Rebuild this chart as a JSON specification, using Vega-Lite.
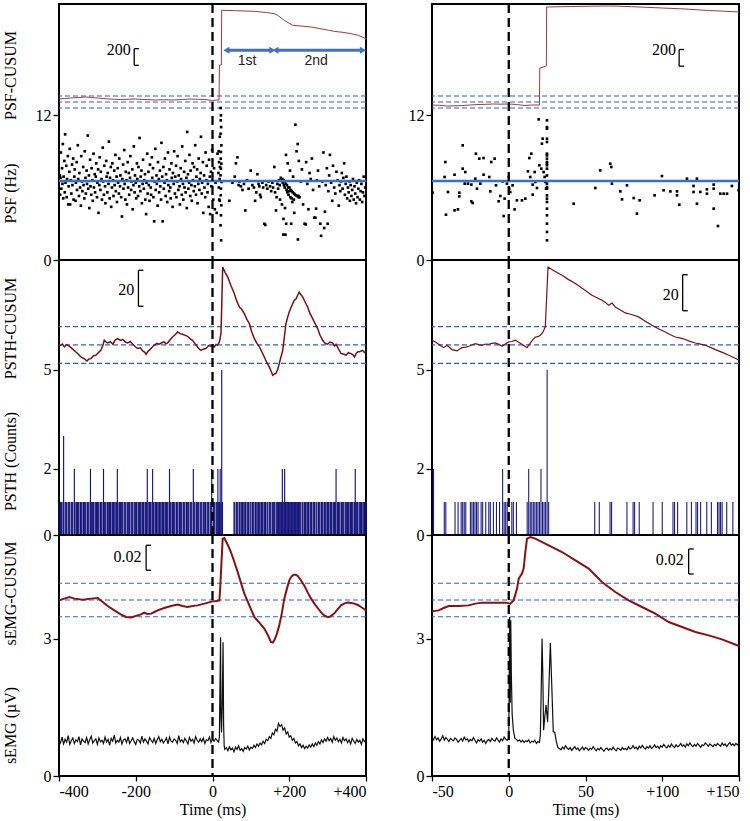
{
  "$schema": "https://vega.github.io/schema/vega-lite/v6.json",
  "background": "white",
  "padding": {"left": 1, "top": 1, "right": 2, "bottom": 2},
  "config": {
    "view": {"stroke": "black", "strokeWidth": 2},
    "axis": {
      "labelFont": "Liberation Serif", "labelFontSize": 16, "labelColor": "black",
      "titleFont": "Liberation Serif", "titleFontSize": 16, "titleFontWeight": "normal", "titleColor": "black",
      "tickColor": "black", "tickWidth": 1.3, "grid": false, "domain": false
    }
  },
  "datasets": {
    "psfL": [
      {"t":-398,"f":7.0},{"t":-397,"f":5.4},{"t":-396,"f":6.8},{"t":-395,"f":8.9},{"t":-394,"f":5.9},{"t":-392,"f":7.6},{"t":-391,"f":6.3},{"t":-390,"f":9.6},{"t":-389,"f":5.1},{"t":-388,"f":6.9},
      {"t":-386,"f":8.2},{"t":-385,"f":5.6},{"t":-384,"f":10.4},{"t":-383,"f":6.4},{"t":-381,"f":7.8},{"t":-380,"f":5.2},{"t":-379,"f":6.7},{"t":-377,"f":8.6},{"t":-376,"f":4.6},{"t":-375,"f":6.1},
      {"t":-373,"f":7.3},{"t":-372,"f":9.2},{"t":-371,"f":4.6},{"t":-369,"f":6.6},{"t":-368,"f":5.5},{"t":-366,"f":7.9},{"t":-365,"f":6.2},{"t":-363,"f":8.4},{"t":-362,"f":5.0},{"t":-360,"f":6.9},
      {"t":-359,"f":7.5},{"t":-357,"f":4.9},{"t":-356,"f":6.4},{"t":-354,"f":8.1},{"t":-353,"f":5.8},{"t":-351,"f":9.5},{"t":-350,"f":6.7},{"t":-348,"f":5.3},{"t":-347,"f":7.2},{"t":-345,"f":6.0},
      {"t":-343,"f":4.5},{"t":-342,"f":8.6},{"t":-340,"f":6.5},{"t":-339,"f":5.7},{"t":-337,"f":7.7},{"t":-336,"f":6.2},{"t":-334,"f":5.1},{"t":-333,"f":9.0},{"t":-331,"f":6.8},{"t":-330,"f":5.5},
      {"t":-328,"f":7.4},{"t":-327,"f":6.3},{"t":-325,"f":10.3},{"t":-324,"f":5.9},{"t":-322,"f":7.0},{"t":-321,"f":4.3},{"t":-319,"f":8.3},{"t":-318,"f":6.1},{"t":-316,"f":5.4},{"t":-315,"f":7.6},
      {"t":-313,"f":6.6},{"t":-312,"f":4.9},{"t":-310,"f":8.8},{"t":-309,"f":6.0},{"t":-307,"f":7.1},{"t":-306,"f":5.6},{"t":-304,"f":6.9},{"t":-303,"f":8.0},{"t":-301,"f":5.2},{"t":-300,"f":6.4},
      {"t":-298,"f":7.5},{"t":-297,"f":3.9},{"t":-295,"f":6.2},{"t":-294,"f":8.5},{"t":-292,"f":5.8},{"t":-291,"f":7.3},{"t":-289,"f":6.7},{"t":-288,"f":5.0},{"t":-286,"f":9.3},{"t":-285,"f":6.5},
      {"t":-283,"f":5.4},{"t":-282,"f":7.8},{"t":-280,"f":6.1},{"t":-279,"f":4.7},{"t":-277,"f":8.2},{"t":-276,"f":6.9},{"t":-274,"f":5.6},{"t":-273,"f":7.2},{"t":-271,"f":6.3},{"t":-270,"f":9.8},
      {"t":-268,"f":5.1},{"t":-267,"f":6.8},{"t":-265,"f":7.7},{"t":-264,"f":4.4},{"t":-262,"f":6.0},{"t":-261,"f":8.0},{"t":-259,"f":6.6},{"t":-258,"f":5.3},{"t":-256,"f":7.4},{"t":-255,"f":6.2},
      {"t":-253,"f":8.7},{"t":-252,"f":5.7},{"t":-250,"f":6.9},{"t":-249,"f":4.8},{"t":-247,"f":7.6},{"t":-246,"f":6.4},{"t":-244,"f":5.5},{"t":-243,"f":8.4},{"t":-241,"f":6.1},{"t":-240,"f":7.0},
      {"t":-238,"f":5.2},{"t":-236,"f":3.6},{"t":-235,"f":6.7},{"t":-233,"f":7.9},{"t":-232,"f":5.9},{"t":-230,"f":9.1},{"t":-229,"f":6.3},{"t":-227,"f":5.0},{"t":-226,"f":7.3},{"t":-224,"f":6.6},
      {"t":-223,"f":4.6},{"t":-221,"f":8.1},{"t":-220,"f":6.0},{"t":-218,"f":7.2},{"t":-217,"f":5.4},{"t":-215,"f":6.8},{"t":-214,"f":8.6},{"t":-212,"f":5.8},{"t":-211,"f":6.5},{"t":-209,"f":7.5},
      {"t":-208,"f":4.2},{"t":-206,"f":6.2},{"t":-205,"f":9.4},{"t":-203,"f":5.6},{"t":-202,"f":7.0},{"t":-200,"f":6.4},{"t":-199,"f":5.1},{"t":-197,"f":8.0},{"t":-196,"f":6.7},{"t":-194,"f":5.3},
      {"t":-193,"f":7.7},{"t":-191,"f":6.1},{"t":-190,"f":10.1},{"t":-188,"f":5.7},{"t":-187,"f":6.9},{"t":-185,"f":7.4},{"t":-184,"f":4.7},{"t":-182,"f":6.3},{"t":-181,"f":8.3},{"t":-179,"f":5.9},
      {"t":-178,"f":6.6},{"t":-176,"f":7.1},{"t":-175,"f":5.0},{"t":-173,"f":3.8},{"t":-172,"f":6.4},{"t":-170,"f":8.8},{"t":-169,"f":5.5},{"t":-167,"f":7.3},{"t":-166,"f":6.2},{"t":-164,"f":4.9},
      {"t":-163,"f":7.9},{"t":-161,"f":6.0},{"t":-160,"f":5.4},{"t":-158,"f":8.5},{"t":-157,"f":6.8},{"t":-155,"f":7.6},{"t":-154,"f":5.2},{"t":-152,"f":3.2},{"t":-151,"f":6.5},{"t":-149,"f":9.2},
      {"t":-148,"f":5.8},{"t":-146,"f":7.0},{"t":-145,"f":6.3},{"t":-143,"f":4.5},{"t":-142,"f":8.1},{"t":-140,"f":6.7},{"t":-139,"f":5.6},{"t":-137,"f":7.4},{"t":-136,"f":6.1},{"t":-134,"f":5.0},
      {"t":-133,"f":9.7},{"t":-131,"f":6.9},{"t":-130,"f":3.2},{"t":-128,"f":7.7},{"t":-127,"f":5.9},{"t":-125,"f":6.4},{"t":-124,"f":8.4},{"t":-122,"f":5.3},{"t":-121,"f":7.1},{"t":-119,"f":6.6},
      {"t":-118,"f":4.8},{"t":-116,"f":8.9},{"t":-115,"f":6.2},{"t":-113,"f":5.7},{"t":-112,"f":7.5},{"t":-110,"f":6.0},{"t":-109,"f":5.1},{"t":-107,"f":8.0},{"t":-106,"f":6.8},{"t":-104,"f":4.4},
      {"t":-103,"f":7.2},{"t":-101,"f":6.3},{"t":-100,"f":9.0},{"t":-98,"f":5.5},{"t":-97,"f":6.9},{"t":-95,"f":7.8},{"t":-94,"f":5.2},{"t":-92,"f":6.5},{"t":-91,"f":8.6},{"t":-89,"f":5.8},
      {"t":-88,"f":7.0},{"t":-86,"f":6.1},{"t":-85,"f":4.6},{"t":-83,"f":7.6},{"t":-82,"f":6.7},{"t":-80,"f":5.4},{"t":-79,"f":9.4},{"t":-77,"f":6.3},{"t":-76,"f":5.0},{"t":-74,"f":7.3},
      {"t":-73,"f":6.0},{"t":-71,"f":8.2},{"t":-70,"f":5.6},{"t":-68,"f":6.8},{"t":-67,"f":4.3},{"t":-66,"f":10.6},{"t":-64,"f":7.1},{"t":-63,"f":5.9},{"t":-61,"f":6.4},{"t":-60,"f":8.7},
      {"t":-58,"f":5.3},{"t":-57,"f":7.4},{"t":-55,"f":6.2},{"t":-54,"f":4.9},{"t":-52,"f":8.0},{"t":-51,"f":6.6},{"t":-49,"f":5.7},{"t":-48,"f":7.7},{"t":-46,"f":6.1},{"t":-45,"f":9.5},
      {"t":-43,"f":5.4},{"t":-42,"f":6.9},{"t":-40,"f":7.5},{"t":-39,"f":4.7},{"t":-37,"f":6.3},{"t":-36,"f":8.4},{"t":-34,"f":5.8},{"t":-33,"f":6.7},{"t":-31,"f":7.2},{"t":-30,"f":10.2},
      {"t":-28,"f":5.5},{"t":-27,"f":6.4},{"t":-25,"f":8.1},{"t":-24,"f":3.9},{"t":-22,"f":7.0},{"t":-21,"f":6.0},{"t":-19,"f":5.2},{"t":-18,"f":8.9},{"t":-16,"f":6.6},{"t":-15,"f":7.8},
      {"t":-13,"f":5.6},{"t":-12,"f":6.3},{"t":-10,"f":4.4},{"t":-9,"f":8.3},{"t":-7,"f":6.9},{"t":-6,"f":3.8},{"t":-4,"f":7.3},{"t":-3,"f":6.1},{"t":-1,"f":9.1},
      {"t":2,"f":5.0},{"t":4,"f":7.6},{"t":6,"f":4.2},{"t":8,"f":6.4},{"t":11,"f":3.9},{"t":13,"f":8.8},
      {"t":16,"f":9.0},{"t":17,"f":8.1},{"t":15.5,"f":7.2},{"t":16.5,"f":6.0},{"t":17.5,"f":5.0},{"t":19,"f":10.2},{"t":19.5,"f":7.7},{"t":18.5,"f":6.7},{"t":19,"f":4.9},
      {"t":21,"f":12.58},{"t":22,"f":11.97},{"t":21.5,"f":11.56},{"t":22.5,"f":11.0},{"t":21,"f":10.45},{"t":23,"f":9.49},{"t":22,"f":8.94},{"t":21.5,"f":8.39},{"t":23,"f":7.97},{"t":22,"f":7.56},
      {"t":21,"f":7.01},{"t":23.5,"f":6.46},{"t":22,"f":5.91},{"t":21.5,"f":5.36},{"t":23,"f":4.53},{"t":22,"f":3.7},{"t":21,"f":2.87},{"t":22.5,"f":1.63},
      {"t":44,"f":4.9},{"t":52,"f":6.4},{"t":58,"f":6.9},{"t":61,"f":8.0},{"t":65,"f":8.5},{"t":68,"f":6.2},{"t":70,"f":6.5},{"t":74,"f":6.1},{"t":78,"f":5.8},{"t":82,"f":6.3},
      {"t":85.5,"f":4.1},{"t":90,"f":6.6},{"t":94,"f":5.9},{"t":99.5,"f":7.4},{"t":104,"f":6.2},{"t":108,"f":6.0},{"t":111,"f":4.9},{"t":114,"f":5.6},{"t":117,"f":7.1},{"t":120,"f":6.3},
      {"t":122,"f":6.1},{"t":124,"f":5.4},{"t":126,"f":5.2},{"t":130,"f":6.4},{"t":132,"f":6.0},{"t":135,"f":3.0},{"t":137.6,"f":2.9},{"t":140,"f":6.2},{"t":143,"f":5.9},{"t":146,"f":6.5},
      {"t":150,"f":6.1},{"t":153,"f":5.7},{"t":156,"f":6.4},{"t":158,"f":6.0},{"t":161,"f":7.7},{"t":163,"f":5.6},{"t":165.5,"f":4.1},{"t":167,"f":5.2},{"t":169,"f":6.3},{"t":171,"f":5.9},
      {"t":173,"f":6.6},{"t":175,"f":6.2},{"t":176,"f":5.0},{"t":178,"f":6.8},{"t":180,"f":6.6},{"t":181,"f":4.6},{"t":183,"f":6.4},{"t":184.6,"f":2.1},{"t":185,"f":3.4},{"t":186,"f":6.2},
      {"t":188,"f":6.0},{"t":189,"f":4.3},{"t":190,"f":2.1},{"t":191.5,"f":8.7},{"t":192,"f":3.0},{"t":193,"f":5.8},{"t":195,"f":5.6},{"t":196,"f":8.0},{"t":198,"f":5.4},{"t":200,"f":5.7},
      {"t":202,"f":7.4},{"t":203,"f":5.2},{"t":205,"f":3.0},{"t":206,"f":5.1},{"t":208,"f":4.8},{"t":210,"f":6.9},{"t":212,"f":5.0},{"t":213,"f":3.9},{"t":216,"f":11.2},{"t":219,"f":9.0},
      {"t":222,"f":9.6},{"t":222.5,"f":1.7},{"t":224,"f":5.3},{"t":225,"f":8.2},{"t":227,"f":5.2},{"t":230,"f":6.5},{"t":233,"f":7.5},{"t":236,"f":4.6},{"t":240,"f":3.0},{"t":243,"f":2.95},
      {"t":244,"f":8.1},{"t":247,"f":6.3},{"t":250,"f":4.2},{"t":253,"f":7.2},{"t":256,"f":6.7},{"t":259,"f":8.4},{"t":262,"f":5.8},{"t":265,"f":3.5},{"t":268,"f":3.5},{"t":270,"f":4.25},
      {"t":272,"f":6.6},{"t":275,"f":7.4},{"t":278,"f":6.1},{"t":281,"f":3.0},{"t":283,"f":2.0},{"t":286,"f":6.5},{"t":289,"f":8.9},{"t":291,"f":2.65},{"t":293,"f":4.0},{"t":295,"f":6.2},
      {"t":298,"f":7.6},{"t":300,"f":3.0},{"t":302,"f":5.7},{"t":304,"f":7.0},{"t":306,"f":8.7},{"t":309,"f":6.4},{"t":312,"f":4.9},{"t":314,"f":7.8},{"t":317,"f":6.0},{"t":320,"f":5.5},
      {"t":323,"f":7.3},{"t":326,"f":6.6},{"t":329,"f":4.5},{"t":331,"f":6.2},{"t":333,"f":5.7},{"t":335,"f":6.5},{"t":337,"f":7.2},{"t":339,"f":5.9},{"t":341,"f":6.8},{"t":343,"f":8.0},
      {"t":345,"f":5.4},{"t":347,"f":6.3},{"t":349,"f":6.9},{"t":351,"f":5.1},{"t":353,"f":6.0},{"t":355,"f":5.6},{"t":357,"f":6.5},{"t":358,"f":4.9},{"t":360,"f":6.2},{"t":362,"f":5.3},
      {"t":364,"f":5.8},{"t":366,"f":6.7},{"t":368,"f":5.0},{"t":370,"f":6.1},{"t":372,"f":5.5},{"t":374,"f":4.7},{"t":376,"f":6.4},{"t":378,"f":5.2},{"t":380,"f":5.9},{"t":382,"f":6.6},
      {"t":384,"f":5.0},{"t":386,"f":5.7},{"t":388,"f":6.3},{"t":390,"f":4.8},{"t":392,"f":5.6},{"t":394,"f":6.9},{"t":396,"f":5.3},{"t":398,"f":6.0},
      {"t":182,"f":6.7},{"t":185.5,"f":6.6},{"t":188.5,"f":6.5},{"t":191,"f":6.3},{"t":194,"f":6.2},{"t":197,"f":6.0},{"t":200.5,"f":6.0},{"t":203.5,"f":5.8},{"t":206.5,"f":5.7},{"t":209,"f":5.6},
      {"t":212.5,"f":5.5},{"t":215,"f":5.4},{"t":218,"f":5.35},{"t":221,"f":5.3},{"t":224.5,"f":5.2}
    ],
    "psfR": [
      {"t":-49.6,"f":5.57},{"t":-41.8,"f":6.87},{"t":-41.3,"f":8.11},{"t":-40.9,"f":3.75},{"t":-39.6,"f":5.63},{"t":-35.3,"f":7.06},{"t":-35.3,"f":4.11},{"t":-33.1,"f":4.19},{"t":-32.2,"f":5.57},{"t":-32.2,"f":5.27},
      {"t":-30,"f":9.49},{"t":-30,"f":7.56},{"t":-28.7,"f":6.32},{"t":-28.3,"f":7.28},{"t":-26.6,"f":6.32},{"t":-24.4,"f":6.24},{"t":-24.4,"f":4.86},{"t":-23.5,"f":4.72},{"t":-21.8,"f":6.73},{"t":-21.4,"f":8.8},
      {"t":-20.7,"f":5.9},{"t":-19.2,"f":8.39},{"t":-18.5,"f":6.32},{"t":-16.4,"f":8.44},{"t":-16.4,"f":7.06},{"t":-12.7,"f":6.87},{"t":-12,"f":5.68},{"t":-11.4,"f":8.11},{"t":-9.2,"f":8.39},{"t":-8.3,"f":6.18},
      {"t":-6.6,"f":4.86},{"t":-5.5,"f":5.3},{"t":-4,"f":6.51},{"t":-3.3,"f":3.64},{"t":-2.7,"f":5.08},{"t":-1.2,"f":6.32},{"t":0,"f":6.87},{"t":0.3,"f":5.9},{"t":1,"f":5.63},{"t":2.5,"f":6.18},
      {"t":3.8,"f":4.19},{"t":5.3,"f":4.94},{"t":8.6,"f":4.94},{"t":10.8,"f":5.08},{"t":12.5,"f":7.34},{"t":13.4,"f":8.44},{"t":14,"f":6.87},{"t":14.7,"f":8.8},{"t":15.6,"f":5.41},{"t":15.6,"f":6.24},
      {"t":16.9,"f":7.28},{"t":17.3,"f":6.46},{"t":18.4,"f":5.96},{"t":19.5,"f":11.64},{"t":19.9,"f":7.84},{"t":21.2,"f":7.56},{"t":21.6,"f":9.63},{"t":22.1,"f":10.04},{"t":22.7,"f":7.28},{"t":23.4,"f":6.87},
      {"t":23.8,"f":6.46},{"t":24.3,"f":5.9},
      {"t":24.9,"f":11.56},{"t":24.9,"f":11.0},{"t":24.9,"f":10.87},{"t":24.9,"f":10.04},{"t":24.9,"f":9.77},{"t":24.9,"f":8.8},{"t":24.9,"f":8.66},{"t":24.9,"f":8.39},{"t":24.9,"f":8.11},{"t":24.9,"f":7.97},
      {"t":24.9,"f":7.84},{"t":24.9,"f":7.56},{"t":24.9,"f":7.0},{"t":24.9,"f":6.32},{"t":24.9,"f":6.04},{"t":24.9,"f":5.9},{"t":24.9,"f":5.35},{"t":24.9,"f":5.08},{"t":24.9,"f":4.8},{"t":24.9,"f":4.25},
      {"t":24.9,"f":3.7},{"t":24.9,"f":3.01},{"t":24.9,"f":2.32},{"t":24.9,"f":1.63},
      {"t":42.3,"f":4.66},{"t":56.4,"f":5.96},{"t":59.6,"f":7.42},{"t":66.1,"f":7.97},{"t":66.8,"f":7.7},{"t":67.2,"f":6.32},{"t":72.7,"f":5.68},{"t":73.8,"f":5.02},{"t":77,"f":6.18},{"t":81.4,"f":5.13},
      {"t":83.5,"f":3.84},{"t":85.3,"f":4.94},{"t":95,"f":5.35},{"t":99.8,"f":6.95},{"t":100.9,"f":5.77},{"t":105.3,"f":5.68},{"t":109.6,"f":5.68},{"t":109.6,"f":5.35},{"t":111.1,"f":4.58},{"t":116.1,"f":6.73},
      {"t":120.4,"f":6.13},{"t":120.4,"f":5.63},{"t":122.6,"f":6.73},{"t":122.6,"f":4.66},{"t":124.8,"f":5.63},{"t":129.1,"f":5.85},{"t":129.1,"f":5.49},{"t":133.5,"f":6.24},{"t":133.5,"f":5.9},{"t":133.5,"f":4.25},
      {"t":136.3,"f":2.81},{"t":137.8,"f":5.49},{"t":140,"f":5.49},{"t":142.2,"f":5.49},{"t":145.4,"f":6.13},{"t":149.8,"f":5.77}
    ],
    "cuPsfL": [
      {"t":-400,"u":36},{"t":-385,"u":42},{"t":-370,"u":48},{"t":-350,"u":54},{"t":-330,"u":60},{"t":-315,"u":54},{"t":-300,"u":48},{"t":-285,"u":42},{"t":-270,"u":36},{"t":-255,"u":33},
      {"t":-240,"u":30},{"t":-220,"u":33},{"t":-200,"u":36},{"t":-180,"u":30},{"t":-160,"u":27},{"t":-150,"u":24},{"t":-130,"u":27},{"t":-100,"u":24},{"t":-80,"u":30},{"t":-60,"u":36},
      {"t":-40,"u":33},{"t":-20,"u":30},{"t":-5,"u":21},{"t":0,"u":18},{"t":10,"u":24},{"t":17,"u":24},{"t":18,"u":444},{"t":23,"u":444},{"t":24,"u":1104},{"t":26.5,"u":1100},
      {"t":60,"u":1096},{"t":109,"u":1088},{"t":140,"u":1074},{"t":161,"u":1060},{"t":170,"u":1040},{"t":187,"u":980},{"t":209,"u":920},{"t":230,"u":912},{"t":257,"u":900},{"t":280,"u":880},
      {"t":304,"u":860},{"t":317,"u":848},{"t":340,"u":836},{"t":361,"u":820},{"t":380,"u":800},{"t":396,"u":768},{"t":400,"u":760}
    ],
    "cuPsfR": [
      {"t":-50,"u":-36},{"t":-45,"u":-40},{"t":-40,"u":-48},{"t":-35,"u":-46},{"t":-30,"u":-42},{"t":-25,"u":-36},{"t":-20,"u":-30},{"t":-15,"u":-28},{"t":-10,"u":-24},{"t":-5,"u":-26},
      {"t":0,"u":-24},{"t":5,"u":-30},{"t":10,"u":-42},{"t":15,"u":-36},{"t":20,"u":-36},{"t":20.2,"u":408},{"t":24.5,"u":432},{"t":24.7,"u":1140},{"t":40,"u":1146},{"t":55,"u":1150},
      {"t":67,"u":1152},{"t":80,"u":1144},{"t":100,"u":1128},{"t":115,"u":1116},{"t":130,"u":1098},{"t":140,"u":1090},{"t":150,"u":1080}
    ],
    "psthL": [
      {"t":-400,"c":1},{"t":-396,"c":1},{"t":-394,"c":1},{"t":-392,"c":1},{"t":-388,"c":3},{"t":-384,"c":1},{"t":-382,"c":1},{"t":-380,"c":1},{"t":-376,"c":1},{"t":-374,"c":1},
      {"t":-372,"c":1},{"t":-368,"c":1},{"t":-366,"c":1},{"t":-364,"c":1},{"t":-360,"c":2},{"t":-358,"c":1},{"t":-354,"c":1},{"t":-352,"c":1},{"t":-350,"c":1},{"t":-348,"c":1},
      {"t":-344,"c":1},{"t":-342,"c":1},{"t":-340,"c":1},{"t":-336,"c":1},{"t":-334,"c":1},{"t":-332,"c":1},{"t":-330,"c":1},{"t":-326,"c":1},{"t":-324,"c":1},{"t":-322,"c":1},
      {"t":-318,"c":2},{"t":-316,"c":1},{"t":-314,"c":1},{"t":-312,"c":1},{"t":-310,"c":1},{"t":-306,"c":1},{"t":-304,"c":1},{"t":-302,"c":1},{"t":-300,"c":1},{"t":-298,"c":1},
      {"t":-296,"c":1},{"t":-292,"c":1},{"t":-290,"c":1},{"t":-288,"c":1},{"t":-284,"c":2},{"t":-282,"c":1},{"t":-280,"c":1},{"t":-278,"c":1},{"t":-274,"c":1},{"t":-272,"c":1},
      {"t":-270,"c":1},{"t":-268,"c":1},{"t":-266,"c":1},{"t":-262,"c":1},{"t":-260,"c":1},{"t":-258,"c":1},{"t":-256,"c":1},{"t":-252,"c":1},{"t":-250,"c":1},{"t":-248,"c":2},
      {"t":-246,"c":1},{"t":-242,"c":1},{"t":-240,"c":1},{"t":-238,"c":1},{"t":-236,"c":1},{"t":-234,"c":1},{"t":-230,"c":1},{"t":-228,"c":1},{"t":-226,"c":1},{"t":-222,"c":1},
      {"t":-220,"c":1},{"t":-218,"c":1},{"t":-216,"c":1},{"t":-212,"c":1},{"t":-210,"c":1},{"t":-208,"c":1},{"t":-204,"c":1},{"t":-202,"c":1},{"t":-200,"c":1},{"t":-198,"c":1},
      {"t":-194,"c":1},{"t":-192,"c":1},{"t":-190,"c":1},{"t":-188,"c":1},{"t":-184,"c":1},{"t":-182,"c":1},{"t":-180,"c":1},{"t":-176,"c":1},{"t":-174,"c":1},{"t":-172,"c":1},
      {"t":-170,"c":2},{"t":-166,"c":1},{"t":-164,"c":1},{"t":-162,"c":1},{"t":-160,"c":1},{"t":-156,"c":2},{"t":-154,"c":1},{"t":-150,"c":1},{"t":-148,"c":1},{"t":-146,"c":1},
      {"t":-144,"c":1},{"t":-140,"c":1},{"t":-138,"c":1},{"t":-136,"c":1},{"t":-132,"c":1},{"t":-130,"c":1},{"t":-128,"c":1},{"t":-126,"c":1},{"t":-122,"c":1},{"t":-120,"c":1},
      {"t":-118,"c":1},{"t":-116,"c":1},{"t":-112,"c":2},{"t":-110,"c":1},{"t":-108,"c":1},{"t":-104,"c":1},{"t":-102,"c":1},{"t":-100,"c":1},{"t":-98,"c":1},{"t":-94,"c":1},
      {"t":-92,"c":1},{"t":-90,"c":1},{"t":-86,"c":1},{"t":-84,"c":1},{"t":-82,"c":1},{"t":-80,"c":1},{"t":-76,"c":1},{"t":-74,"c":1},{"t":-72,"c":1},{"t":-68,"c":1},
      {"t":-66,"c":1},{"t":-64,"c":1},{"t":-62,"c":1},{"t":-58,"c":1},{"t":-56,"c":1},{"t":-54,"c":1},{"t":-50,"c":2},{"t":-48,"c":1},{"t":-46,"c":1},{"t":-42,"c":1},
      {"t":-40,"c":1},{"t":-38,"c":1},{"t":-36,"c":1},{"t":-32,"c":1},{"t":-30,"c":1},{"t":-28,"c":1},{"t":-24,"c":1},{"t":-22,"c":1},{"t":-20,"c":1},{"t":-18,"c":1},
      {"t":-14,"c":1},{"t":-12,"c":1},{"t":-10,"c":1},{"t":-6,"c":1},{"t":-4,"c":1},{"t":-2,"c":2},{"t":2,"c":1},{"t":4,"c":1},{"t":6,"c":1},{"t":10,"c":1},
      {"t":12,"c":1},{"t":14,"c":2},{"t":16,"c":1},{"t":18,"c":1},{"t":20,"c":2},{"t":22,"c":1},{"t":24,"c":5},{"t":26,"c":1},
      {"t":56,"c":1},{"t":58,"c":1},{"t":62,"c":1},{"t":64,"c":1},{"t":66,"c":1},{"t":70,"c":1},{"t":72,"c":1},{"t":76,"c":1},{"t":78,"c":1},{"t":80,"c":1},
      {"t":84,"c":1},{"t":86,"c":1},{"t":90,"c":1},{"t":92,"c":1},{"t":94,"c":1},{"t":98,"c":1},{"t":100,"c":1},{"t":104,"c":1},{"t":106,"c":1},{"t":108,"c":1},
      {"t":112,"c":1},{"t":114,"c":1},{"t":118,"c":1},{"t":120,"c":1},{"t":122,"c":1},{"t":126,"c":1},{"t":128,"c":1},{"t":130,"c":1},{"t":134,"c":1},{"t":136,"c":1},
      {"t":138,"c":1},{"t":142,"c":1},{"t":144,"c":1},{"t":148,"c":1},{"t":150,"c":1},{"t":152,"c":1},{"t":156,"c":1},{"t":158,"c":1},{"t":160,"c":1},{"t":162,"c":1},
      {"t":166,"c":1},{"t":168,"c":1},{"t":170,"c":1},{"t":172,"c":1},{"t":174,"c":1},{"t":176,"c":1},{"t":178,"c":1},{"t":180,"c":1},{"t":182,"c":2},{"t":184,"c":1},
      {"t":186,"c":1},{"t":188,"c":2},{"t":190,"c":1},{"t":192,"c":1},{"t":194,"c":1},{"t":196,"c":1},{"t":198,"c":1},{"t":200,"c":1},{"t":202,"c":1},{"t":204,"c":1},
      {"t":206,"c":1},{"t":208,"c":1},{"t":210,"c":1},{"t":212,"c":1},{"t":214,"c":1},{"t":216,"c":1},{"t":218,"c":1},{"t":220,"c":1},{"t":222,"c":1},{"t":224,"c":1},
      {"t":226,"c":1},{"t":228,"c":1},{"t":230,"c":1},{"t":234,"c":1},{"t":236,"c":1},{"t":240,"c":1},{"t":242,"c":1},{"t":244,"c":1},{"t":248,"c":1},{"t":250,"c":1},
      {"t":254,"c":1},{"t":256,"c":1},{"t":258,"c":1},{"t":262,"c":1},{"t":264,"c":1},{"t":266,"c":1},{"t":270,"c":1},{"t":272,"c":1},{"t":276,"c":1},{"t":278,"c":1},
      {"t":280,"c":1},{"t":284,"c":1},{"t":286,"c":1},{"t":288,"c":1},{"t":292,"c":1},{"t":294,"c":1},{"t":298,"c":1},{"t":300,"c":1},{"t":302,"c":1},{"t":306,"c":1},
      {"t":308,"c":1},{"t":310,"c":1},{"t":314,"c":1},{"t":316,"c":1},{"t":318,"c":1},{"t":320,"c":1},{"t":322,"c":2},{"t":326,"c":1},{"t":328,"c":1},{"t":330,"c":1},
      {"t":332,"c":1},{"t":336,"c":1},{"t":338,"c":1},{"t":340,"c":1},{"t":342,"c":1},{"t":346,"c":1},{"t":348,"c":1},{"t":350,"c":1},{"t":352,"c":1},{"t":354,"c":1},
      {"t":358,"c":1},{"t":360,"c":1},{"t":362,"c":1},{"t":364,"c":1},{"t":366,"c":1},{"t":370,"c":1},{"t":372,"c":2},{"t":374,"c":1},{"t":376,"c":1},{"t":378,"c":1},
      {"t":382,"c":1},{"t":384,"c":1},{"t":386,"c":1},{"t":388,"c":1},{"t":390,"c":1},{"t":394,"c":1},{"t":396,"c":1},{"t":398,"c":1},{"t":400,"c":1}
    ],
    "psthR": [
      {"t":-49,"c":2},{"t":-42,"c":1},{"t":-41,"c":1},{"t":-35,"c":1},{"t":-33,"c":1},{"t":-31,"c":1},{"t":-30,"c":1},{"t":-29,"c":1},{"t":-28,"c":1},{"t":-25,"c":1},
      {"t":-24,"c":1},{"t":-23,"c":1},{"t":-22,"c":1},{"t":-21,"c":1},{"t":-20,"c":1},{"t":-18,"c":1},{"t":-17,"c":1},{"t":-15,"c":1},{"t":-13,"c":1},{"t":-12,"c":1},
      {"t":-10,"c":1},{"t":-8,"c":1},{"t":-6,"c":1},{"t":-4,"c":2},{"t":-3,"c":1},{"t":-2,"c":1},{"t":-1,"c":1},{"t":2,"c":1},{"t":3,"c":1},{"t":5,"c":1},
      {"t":12,"c":1},{"t":13,"c":2},{"t":14,"c":1},{"t":15,"c":1},{"t":16,"c":1},{"t":17,"c":1},{"t":18,"c":1},{"t":19,"c":1},{"t":20,"c":1},{"t":21,"c":2},
      {"t":22,"c":1},{"t":23,"c":1},{"t":24,"c":1},{"t":25,"c":5},{"t":26,"c":1},
      {"t":56,"c":1},{"t":59,"c":1},{"t":66,"c":1},{"t":67,"c":1},{"t":77,"c":1},{"t":81,"c":1},{"t":82,"c":1},{"t":85,"c":1},{"t":94,"c":1},{"t":100,"c":1},
      {"t":107,"c":1},{"t":108,"c":1},{"t":110,"c":1},{"t":116,"c":1},{"t":119,"c":1},{"t":122,"c":1},{"t":123,"c":1},{"t":125,"c":1},{"t":129,"c":1},{"t":132,"c":1},
      {"t":136,"c":1},{"t":137,"c":1},{"t":138,"c":1},{"t":139,"c":1},{"t":142,"c":1},{"t":146,"c":1}
    ],
    "cuPsthL": [
      {"t":-400,"u":-0.2},{"t":-396,"u":-0.2},{"t":-391,"u":0.5},{"t":-386,"u":-1.1},{"t":-380,"u":0.2},{"t":-373,"u":-0.7},{"t":-365,"u":-2.2},{"t":-356,"u":-3.9},{"t":-350,"u":-5.0},{"t":-343,"u":-6.7},
      {"t":-335,"u":-7.5},{"t":-327,"u":-8.9},{"t":-322,"u":-7.8},{"t":-317,"u":-7.6},{"t":-310,"u":-6.0},{"t":-304,"u":-5.7},{"t":-297,"u":-4.2},{"t":-291,"u":-3.0},{"t":-286,"u":-0.5},{"t":-282,"u":2.6},
      {"t":-277,"u":1.5},{"t":-273,"u":1.1},{"t":-266,"u":1.8},{"t":-260,"u":0.4},{"t":-253,"u":2.8},{"t":-247,"u":3.5},{"t":-240,"u":2.5},{"t":-234,"u":3.0},{"t":-227,"u":1.6},{"t":-221,"u":1.1},
      {"t":-214,"u":1.9},{"t":-208,"u":0.4},{"t":-201,"u":-1.0},{"t":-195,"u":-2.0},{"t":-188,"u":-1.6},{"t":-182,"u":-3.3},{"t":-177,"u":-4.0},{"t":-173,"u":-5.2},{"t":-169,"u":-3.8},{"t":-165,"u":-3.0},
      {"t":-158,"u":-1.4},{"t":-152,"u":-0.2},{"t":-145,"u":0.9},{"t":-139,"u":0.4},{"t":-132,"u":1.2},{"t":-126,"u":1.7},{"t":-121,"u":0.6},{"t":-117,"u":1.1},{"t":-110,"u":3.0},{"t":-104,"u":4.4},
      {"t":-97,"u":5.8},{"t":-91,"u":7.2},{"t":-84,"u":6.3},{"t":-78,"u":5.9},{"t":-71,"u":5.3},{"t":-65,"u":4.8},{"t":-58,"u":3.4},{"t":-52,"u":2.6},{"t":-45,"u":0.6},{"t":-39,"u":-1.1},
      {"t":-34,"u":-2.4},{"t":-30,"u":-3.0},{"t":-23,"u":-2.2},{"t":-17,"u":-2.0},{"t":-10,"u":-0.3},{"t":-4,"u":-0.7},{"t":0,"u":-0.2},{"t":5,"u":-1.1},{"t":9,"u":0.3},{"t":13,"u":-0.2},
      {"t":18,"u":1.7},{"t":22,"u":6.3},{"t":24,"u":21},{"t":26.5,"u":43.3},{"t":33,"u":40.2},{"t":39.5,"u":37.8},{"t":48,"u":33.0},{"t":57,"u":28.5},{"t":63,"u":24.5},{"t":70,"u":21.1},
      {"t":76,"u":19.8},{"t":83,"u":17.4},{"t":90,"u":14.0},{"t":96,"u":11.9},{"t":102,"u":7.5},{"t":109,"u":3.5},{"t":115,"u":1.2},{"t":122,"u":-1.1},{"t":128,"u":-3.5},{"t":135,"u":-6.7},
      {"t":141,"u":-9.6},{"t":148,"u":-12.2},{"t":153,"u":-14.8},{"t":157,"u":-16.9},{"t":161,"u":-16.2},{"t":165,"u":-15.9},{"t":170,"u":-13.5},{"t":174,"u":-10.4},{"t":178,"u":-7.0},{"t":183,"u":-3.0},
      {"t":187,"u":4.0},{"t":191.5,"u":11.9},{"t":196,"u":15.5},{"t":200,"u":18.3},{"t":206,"u":21.5},{"t":213,"u":24.8},{"t":218,"u":25.6},{"t":222,"u":27.6},{"t":226,"u":29.4},{"t":230,"u":28.0},
      {"t":235,"u":26.7},{"t":241,"u":24.0},{"t":248,"u":21.1},{"t":254,"u":17.5},{"t":261,"u":14.6},{"t":267,"u":12.0},{"t":274,"u":9.1},{"t":280,"u":5.5},{"t":287,"u":2.6},{"t":293,"u":1.0},
      {"t":300,"u":0.4},{"t":306,"u":1.6},{"t":313,"u":1.1},{"t":318,"u":-0.6},{"t":322,"u":0.4},{"t":328,"u":-2.0},{"t":335,"u":-4.8},{"t":341,"u":-5.0},{"t":348,"u":-5.7},{"t":354,"u":-4.3},
      {"t":361,"u":-4.8},{"t":366,"u":-5.5},{"t":370,"u":-6.7},{"t":374,"u":-4.8},{"t":378,"u":-3.9},{"t":385,"u":-3.6},{"t":391,"u":-3.0},{"t":396,"u":-4.2},{"t":400,"u":-3.9}
    ],
    "cuPsthR": [
      {"t":-50,"u":2.6},{"t":-47.5,"u":1.5},{"t":-45.7,"u":0.4},{"t":-44,"u":-0.6},{"t":-42.4,"u":-1.5},{"t":-40.2,"u":-0.2},{"t":-38.5,"u":-1.4},{"t":-37,"u":-2.6},{"t":-35,"u":-3.0},{"t":-33.7,"u":-3.3},
      {"t":-32,"u":-2.2},{"t":-30.5,"u":-1.5},{"t":-28,"u":-1.2},{"t":-26.1,"u":-0.7},{"t":-24,"u":0.0},{"t":-21.8,"u":0.7},{"t":-19.5,"u":0.2},{"t":-17.4,"u":-0.2},{"t":-15,"u":0.5},{"t":-13.1,"u":0.4},
      {"t":-11,"u":0.9},{"t":-8.7,"u":1.1},{"t":-6.5,"u":0.3},{"t":-4.4,"u":-0.7},{"t":-2,"u":0.6},{"t":0,"u":1.7},{"t":2,"u":1.9},{"t":4.3,"u":2.6},{"t":6.5,"u":1.5},{"t":8.6,"u":0.4},
      {"t":10.3,"u":-0.6},{"t":11.9,"u":-1.5},{"t":14.1,"u":1.1},{"t":15.8,"u":3.0},{"t":17.3,"u":4.4},{"t":19,"u":4.6},{"t":20.6,"u":5.4},{"t":22.3,"u":7.2},{"t":23.8,"u":10},{"t":25.6,"u":43.3},
      {"t":30,"u":41.0},{"t":34.7,"u":38.7},{"t":39,"u":36.3},{"t":43.4,"u":34.1},{"t":49,"u":30.8},{"t":54.2,"u":27.6},{"t":57.5,"u":26.2},{"t":60.7,"u":24.8},{"t":63,"u":23.6},{"t":65.1,"u":22},
      {"t":67.3,"u":23.3},{"t":69.4,"u":21.1},{"t":72.5,"u":19.5},{"t":75.9,"u":17.8},{"t":80,"u":16.9},{"t":84.6,"u":15.6},{"t":89,"u":13.2},{"t":93.3,"u":10.9},{"t":97.5,"u":9.0},{"t":102,"u":7.2},
      {"t":105,"u":5.8},{"t":108.5,"u":4.4},{"t":112,"u":3.8},{"t":115,"u":3.0},{"t":118,"u":2.0},{"t":121.5,"u":1.1},{"t":125,"u":0.5},{"t":128,"u":-0.2},{"t":131,"u":-1.2},{"t":134.6,"u":-2.6},
      {"t":137,"u":-3.4},{"t":140,"u":-4.4},{"t":143.3,"u":-5.7},{"t":146.5,"u":-7.0},{"t":150,"u":-8.5}
    ],
    "emgL": [
      {"t":-400,"v":0.78},{"t":-396,"v":0.72},{"t":-392,"v":0.85},{"t":-388,"v":0.70},{"t":-384,"v":0.80},{"t":-380,"v":0.74},{"t":-376,"v":0.88},{"t":-372,"v":0.69},{"t":-368,"v":0.77},{"t":-364,"v":0.83},
      {"t":-360,"v":0.71},{"t":-356,"v":0.79},{"t":-352,"v":0.75},{"t":-348,"v":0.86},{"t":-344,"v":0.68},{"t":-340,"v":0.81},{"t":-336,"v":0.76},{"t":-332,"v":0.73},{"t":-328,"v":0.84},{"t":-324,"v":0.70},
      {"t":-320,"v":0.79},{"t":-316,"v":0.87},{"t":-312,"v":0.72},{"t":-308,"v":0.77},{"t":-304,"v":0.81},{"t":-300,"v":0.69},{"t":-296,"v":0.83},{"t":-292,"v":0.75},{"t":-288,"v":0.78},{"t":-284,"v":0.71},
      {"t":-280,"v":0.85},{"t":-276,"v":0.74},{"t":-272,"v":0.80},{"t":-268,"v":0.67},{"t":-264,"v":0.82},{"t":-260,"v":0.76},{"t":-256,"v":0.89},{"t":-252,"v":0.72},{"t":-248,"v":0.78},{"t":-244,"v":0.74},
      {"t":-240,"v":0.84},{"t":-236,"v":0.70},{"t":-232,"v":0.79},{"t":-228,"v":0.81},{"t":-224,"v":0.73},{"t":-220,"v":0.86},{"t":-216,"v":0.71},{"t":-212,"v":0.77},{"t":-208,"v":0.83},{"t":-204,"v":0.75},
      {"t":-200,"v":0.69},{"t":-196,"v":0.80},{"t":-192,"v":0.78},{"t":-188,"v":0.72},{"t":-184,"v":0.87},{"t":-180,"v":0.74},{"t":-176,"v":0.81},{"t":-172,"v":0.76},{"t":-168,"v":0.70},{"t":-164,"v":0.84},
      {"t":-160,"v":0.78},{"t":-156,"v":0.73},{"t":-152,"v":0.82},{"t":-148,"v":0.71},{"t":-144,"v":0.79},{"t":-140,"v":0.86},{"t":-136,"v":0.75},{"t":-132,"v":0.80},{"t":-128,"v":0.72},{"t":-124,"v":0.77},
      {"t":-120,"v":0.83},{"t":-116,"v":0.70},{"t":-112,"v":0.85},{"t":-108,"v":0.76},{"t":-104,"v":0.74},{"t":-100,"v":0.81},{"t":-96,"v":0.78},{"t":-92,"v":0.71},{"t":-88,"v":0.88},{"t":-84,"v":0.75},
      {"t":-80,"v":0.79},{"t":-76,"v":0.73},{"t":-72,"v":0.82},{"t":-68,"v":0.77},{"t":-64,"v":0.70},{"t":-60,"v":0.84},{"t":-56,"v":0.76},{"t":-52,"v":0.80},{"t":-48,"v":0.72},{"t":-44,"v":0.86},
      {"t":-40,"v":0.78},{"t":-36,"v":0.74},{"t":-32,"v":0.81},{"t":-28,"v":0.75},{"t":-24,"v":0.83},{"t":-20,"v":0.71},{"t":-16,"v":0.79},{"t":-12,"v":0.77},{"t":-8,"v":0.85},{"t":-4,"v":0.73},
      {"t":0,"v":0.80},{"t":4,"v":0.76},{"t":8,"v":0.82},{"t":12,"v":0.78},{"t":16,"v":0.74},
      {"t":18,"v":0.85},{"t":19.5,"v":2.0},{"t":21,"v":3.03},{"t":22,"v":1.3},{"t":23.5,"v":0.95},{"t":25.5,"v":1.6},{"t":27.5,"v":2.92},{"t":29,"v":1.1},{"t":30.5,"v":0.65},
      {"t":32,"v":0.58},{"t":36,"v":0.62},{"t":40,"v":0.55},{"t":44,"v":0.64},{"t":48,"v":0.57},{"t":52,"v":0.61},{"t":56,"v":0.53},{"t":60,"v":0.63},{"t":64,"v":0.58},{"t":68,"v":0.66},
      {"t":72,"v":0.56},{"t":76,"v":0.60},{"t":80,"v":0.54},{"t":84,"v":0.62},{"t":88,"v":0.59},{"t":92,"v":0.65},{"t":96,"v":0.57},{"t":100,"v":0.63},{"t":104,"v":0.60},{"t":108,"v":0.67},
      {"t":112,"v":0.62},{"t":116,"v":0.70},{"t":120,"v":0.65},{"t":124,"v":0.72},{"t":128,"v":0.68},{"t":132,"v":0.76},{"t":136,"v":0.71},{"t":140,"v":0.80},{"t":144,"v":0.77},{"t":148,"v":0.86},
      {"t":152,"v":0.82},{"t":156,"v":0.94},{"t":160,"v":0.90},{"t":164,"v":1.02},{"t":168,"v":0.98},{"t":172,"v":1.15},{"t":176,"v":1.08},{"t":180,"v":1.12},{"t":184,"v":1.00},{"t":188,"v":1.05},
      {"t":192,"v":0.92},{"t":196,"v":0.96},{"t":200,"v":0.85},{"t":204,"v":0.88},{"t":208,"v":0.78},{"t":212,"v":0.82},{"t":216,"v":0.72},{"t":220,"v":0.75},{"t":224,"v":0.66},{"t":228,"v":0.70},
      {"t":232,"v":0.62},{"t":236,"v":0.67},{"t":240,"v":0.60},{"t":244,"v":0.65},{"t":248,"v":0.61},{"t":252,"v":0.68},{"t":256,"v":0.63},{"t":260,"v":0.70},{"t":264,"v":0.64},{"t":268,"v":0.72},
      {"t":272,"v":0.67},{"t":276,"v":0.75},{"t":280,"v":0.70},{"t":284,"v":0.79},{"t":288,"v":0.73},{"t":292,"v":0.81},{"t":296,"v":0.76},{"t":300,"v":0.84},{"t":304,"v":0.77},{"t":308,"v":0.82},
      {"t":312,"v":0.74},{"t":316,"v":0.86},{"t":320,"v":0.78},{"t":324,"v":0.83},{"t":328,"v":0.75},{"t":332,"v":0.80},{"t":336,"v":0.72},{"t":340,"v":0.84},{"t":344,"v":0.77},{"t":348,"v":0.81},
      {"t":352,"v":0.73},{"t":356,"v":0.79},{"t":360,"v":0.70},{"t":364,"v":0.82},{"t":368,"v":0.76},{"t":372,"v":0.71},{"t":376,"v":0.80},{"t":380,"v":0.74},{"t":384,"v":0.78},{"t":388,"v":0.69},
      {"t":392,"v":0.81},{"t":396,"v":0.75},{"t":400,"v":0.77}
    ],
    "emgR": [
      {"t":-50,"v":0.74},{"t":-49,"v":0.80},{"t":-48,"v":0.86},{"t":-47,"v":0.79},{"t":-46,"v":0.83},{"t":-45,"v":0.76},{"t":-44,"v":0.81},{"t":-43,"v":0.88},{"t":-42,"v":0.78},{"t":-41,"v":0.84},
      {"t":-40,"v":0.80},{"t":-39,"v":0.75},{"t":-38,"v":0.82},{"t":-37,"v":0.79},{"t":-36,"v":0.77},{"t":-35,"v":0.83},{"t":-34,"v":0.80},{"t":-33,"v":0.74},{"t":-32,"v":0.78},{"t":-31,"v":0.82},
      {"t":-30,"v":0.76},{"t":-29,"v":0.85},{"t":-28,"v":0.79},{"t":-27,"v":0.81},{"t":-26,"v":0.75},{"t":-25,"v":0.80},{"t":-24,"v":0.77},{"t":-23,"v":0.84},{"t":-22,"v":0.78},{"t":-21,"v":0.72},
      {"t":-20,"v":0.79},{"t":-19,"v":0.76},{"t":-18,"v":0.81},{"t":-17,"v":0.74},{"t":-16,"v":0.78},{"t":-15,"v":0.71},{"t":-14,"v":0.77},{"t":-13,"v":0.80},{"t":-12,"v":0.75},{"t":-11,"v":0.82},
      {"t":-10,"v":0.78},{"t":-9,"v":0.76},{"t":-8,"v":0.83},{"t":-7,"v":0.79},{"t":-6,"v":0.74},{"t":-5,"v":0.81},{"t":-4,"v":0.77},{"t":-3,"v":0.85},{"t":-2,"v":0.80},{"t":-1,"v":0.78},
      {"t":0,"v":0.82},{"t":0.6,"v":3.47},{"t":1.0,"v":1.6},{"t":1.3,"v":3.4},{"t":1.7,"v":2.2},{"t":2.2,"v":1.36},{"t":3,"v":1.0},{"t":4,"v":0.82},{"t":5,"v":0.80},{"t":6,"v":0.76},
      {"t":7,"v":0.79},{"t":8,"v":0.74},{"t":9,"v":0.78},{"t":10,"v":0.73},{"t":11,"v":0.77},{"t":12,"v":0.75},{"t":13,"v":0.79},{"t":14,"v":0.72},{"t":15,"v":0.76},{"t":16,"v":0.74},
      {"t":17,"v":0.78},{"t":18,"v":0.71},{"t":19,"v":0.75},{"t":20,"v":0.73},{"t":20.6,"v":0.9},{"t":21.2,"v":2.0},{"t":21.7,"v":3.0},{"t":22.2,"v":2.2},{"t":22.7,"v":1.0},{"t":23.5,"v":1.3},
      {"t":24.3,"v":1.55},{"t":25.3,"v":1.18},{"t":26,"v":1.8},{"t":27.1,"v":2.9},{"t":28,"v":2.0},{"t":29,"v":0.97},{"t":30,"v":0.95},{"t":31,"v":0.75},{"t":32,"v":0.62},
      {"t":33,"v":0.60},{"t":34,"v":0.57},{"t":35,"v":0.63},{"t":36,"v":0.59},{"t":37,"v":0.66},{"t":38,"v":0.61},{"t":39,"v":0.58},{"t":40,"v":0.62},{"t":41,"v":0.56},{"t":42,"v":0.60},
      {"t":43,"v":0.64},{"t":44,"v":0.58},{"t":45,"v":0.61},{"t":46,"v":0.55},{"t":47,"v":0.59},{"t":48,"v":0.63},{"t":49,"v":0.57},{"t":50,"v":0.62},{"t":51,"v":0.60},{"t":52,"v":0.56},
      {"t":53,"v":0.61},{"t":54,"v":0.58},{"t":55,"v":0.64},{"t":56,"v":0.59},{"t":57,"v":0.55},{"t":58,"v":0.60},{"t":59,"v":0.57},{"t":60,"v":0.62},{"t":61,"v":0.58},{"t":62,"v":0.54},
      {"t":63,"v":0.59},{"t":64,"v":0.61},{"t":65,"v":0.56},{"t":66,"v":0.60},{"t":67,"v":0.57},{"t":68,"v":0.63},{"t":69,"v":0.58},{"t":70,"v":0.55},{"t":71,"v":0.61},{"t":72,"v":0.59},
      {"t":73,"v":0.56},{"t":74,"v":0.62},{"t":75,"v":0.58},{"t":76,"v":0.60},{"t":77,"v":0.57},{"t":78,"v":0.64},{"t":79,"v":0.59},{"t":80,"v":0.61},{"t":81,"v":0.66},{"t":82,"v":0.60},
      {"t":83,"v":0.63},{"t":84,"v":0.58},{"t":85,"v":0.65},{"t":86,"v":0.61},{"t":87,"v":0.67},{"t":88,"v":0.62},{"t":89,"v":0.59},{"t":90,"v":0.64},{"t":91,"v":0.61},{"t":92,"v":0.66},
      {"t":93,"v":0.60},{"t":94,"v":0.63},{"t":95,"v":0.68},{"t":96,"v":0.62},{"t":97,"v":0.65},{"t":98,"v":0.60},{"t":99,"v":0.66},{"t":100,"v":0.63},{"t":101,"v":0.69},{"t":102,"v":0.64},
      {"t":103,"v":0.61},{"t":104,"v":0.67},{"t":105,"v":0.63},{"t":106,"v":0.70},{"t":107,"v":0.65},{"t":108,"v":0.62},{"t":109,"v":0.68},{"t":110,"v":0.64},{"t":111,"v":0.66},{"t":112,"v":0.71},
      {"t":113,"v":0.65},{"t":114,"v":0.68},{"t":115,"v":0.63},{"t":116,"v":0.70},{"t":117,"v":0.66},{"t":118,"v":0.72},{"t":119,"v":0.67},{"t":120,"v":0.64},{"t":121,"v":0.69},{"t":122,"v":0.65},
      {"t":123,"v":0.71},{"t":124,"v":0.67},{"t":125,"v":0.63},{"t":126,"v":0.68},{"t":127,"v":0.66},{"t":128,"v":0.72},{"t":129,"v":0.69},{"t":130,"v":0.65},{"t":131,"v":0.70},{"t":132,"v":0.67},
      {"t":133,"v":0.64},{"t":134,"v":0.69},{"t":135,"v":0.66},{"t":136,"v":0.71},{"t":137,"v":0.68},{"t":138,"v":0.65},{"t":139,"v":0.72},{"t":140,"v":0.67},{"t":141,"v":0.70},{"t":142,"v":0.64},
      {"t":143,"v":0.69},{"t":144,"v":0.73},{"t":145,"v":0.67},{"t":146,"v":0.70},{"t":147,"v":0.66},{"t":148,"v":0.71},{"t":149,"v":0.68},{"t":150,"v":0.72}
    ],
    "cuEmgL": [
      {"t":-400,"u":-0.0003},{"t":-386,"u":0.0011},{"t":-373,"u":0.0024},{"t":-360,"u":0.0011},{"t":-338,"u":0.0003},{"t":-317,"u":0.0011},{"t":-299,"u":0.0016},{"t":-286,"u":-0.0016},{"t":-273,"u":-0.0048},{"t":-256,"u":-0.0083},
      {"t":-238,"u":-0.0117},{"t":-225,"u":-0.0136},{"t":-212,"u":-0.0139},{"t":-195,"u":-0.0123},{"t":-186,"u":-0.0115},{"t":-178,"u":-0.0101},{"t":-170,"u":-0.0112},{"t":-160,"u":-0.0109},{"t":-150,"u":-0.0094},{"t":-143,"u":-0.0083},
      {"t":-126,"u":-0.0064},{"t":-108,"u":-0.0048},{"t":-91,"u":-0.0037},{"t":-78,"u":-0.0048},{"t":-65,"u":-0.0056},{"t":-52,"u":-0.0048},{"t":-39,"u":-0.0043},{"t":-21,"u":-0.0029},{"t":0,"u":-0.0011},{"t":10,"u":-0.0008},
      {"t":18,"u":-0.0003},{"t":20,"u":0.0091},{"t":26.5,"u":0.049},{"t":31,"u":0.0496},{"t":40,"u":0.044},{"t":48,"u":0.0384},{"t":57,"u":0.0304},{"t":65.6,"u":0.0224},{"t":74,"u":0.0139},{"t":83,"u":0.0051},
      {"t":96,"u":-0.0043},{"t":109,"u":-0.0136},{"t":122,"u":-0.0181},{"t":135,"u":-0.0229},{"t":145,"u":-0.0285},{"t":152,"u":-0.0336},{"t":157,"u":-0.0341},{"t":161,"u":-0.0323},{"t":168,"u":-0.0269},{"t":174,"u":-0.0203},
      {"t":181,"u":-0.0101},{"t":187,"u":0.0011},{"t":194,"u":0.0091},{"t":200,"u":0.0157},{"t":206,"u":0.0189},{"t":211.5,"u":0.0203},{"t":217,"u":0.0203},{"t":222,"u":0.0192},{"t":230,"u":0.016},{"t":239,"u":0.0117},
      {"t":248,"u":0.0061},{"t":257,"u":0.0011},{"t":265,"u":-0.0027},{"t":274,"u":-0.0064},{"t":283,"u":-0.0099},{"t":291,"u":-0.0123},{"t":298,"u":-0.0134},{"t":304,"u":-0.0136},{"t":310,"u":-0.0125},{"t":317,"u":-0.0109},
      {"t":326,"u":-0.0075},{"t":335,"u":-0.0043},{"t":344,"u":-0.0027},{"t":352,"u":-0.0021},{"t":361,"u":-0.0024},{"t":370,"u":-0.0029},{"t":379,"u":-0.004},{"t":387,"u":-0.0056},{"t":394,"u":-0.007},{"t":400,"u":-0.0083}
    ],
    "cuEmgR": [
      {"t":-50,"u":-0.0091},{"t":-45.7,"u":-0.0083},{"t":-42.4,"u":-0.0064},{"t":-39.1,"u":-0.0048},{"t":-32.6,"u":-0.0048},{"t":-26.1,"u":-0.0043},{"t":-21.8,"u":-0.0029},{"t":-17.4,"u":-0.0021},{"t":-8.7,"u":-0.0021},{"t":-2.2,"u":-0.0021},
      {"t":1,"u":-0.0029},{"t":3.2,"u":-0.0003},{"t":5.4,"u":0.0091},{"t":6.5,"u":0.0171},{"t":8.6,"u":0.0211},{"t":9.7,"u":0.0251},{"t":10.8,"u":0.0384},{"t":11.9,"u":0.0491},{"t":14.1,"u":0.0504},{"t":17.3,"u":0.0491},
      {"t":26,"u":0.0437},{"t":34.7,"u":0.0384},{"t":43.4,"u":0.0317},{"t":52.1,"u":0.0251},{"t":60.7,"u":0.0144},{"t":69.4,"u":0.0064},{"t":78.1,"u":-0.0003},{"t":86.8,"u":-0.0056},{"t":95.5,"u":-0.0109},{"t":104.2,"u":-0.0176},
      {"t":112.9,"u":-0.0216},{"t":121.6,"u":-0.0256},{"t":130.2,"u":-0.0283},{"t":138.9,"u":-0.0315},{"t":150,"u":-0.0368}
    ]
  },
  "columns": 2,
  "spacing": {"row": 0, "column": 66},
  "bounds": "flush",
  "concat": [
    {
      "width": 307, "height": 256,
      "resolve": {"scale": {"y": "independent"}},
      "layer": [
        {
          "data": {"values": [{"u": 72}, {"u": 0}, {"u": -72}]},
          "mark": {"type": "rule", "color": "#2e62d0", "strokeDash": [5, 3], "strokeWidth": 1.2},
          "encoding": {
            "y": {"field": "u", "type": "quantitative", "scale": {"domain": [-1896, 1176], "nice": false, "zero": false},
              "axis": {"orient": "left", "title": "PSF-CUSUM", "labels": false, "ticks": false, "domain": false, "titleX": -49, "titleY": 71, "titleAlign": "center", "titleBaseline": "middle", "titleAngle": 270}}
          }
        },
        {
          "data": {"name": "cuPsfL"},
          "mark": {"type": "line", "color": "#a23a3a", "strokeWidth": 1},
          "encoding": {
            "x": {"field": "t", "type": "quantitative", "scale": {"domain": [-400, 400], "nice": false, "zero": false}, "axis": null},
            "y": {"field": "u", "type": "quantitative", "scale": {"domain": [-1896, 1176], "nice": false, "zero": false}, "axis": null}
          }
        },
        {
          "data": {"values": [{"x": -204, "x2": -204, "y": 440, "y2": 640}, {"x": -204, "x2": -192, "y": 440, "y2": 440}, {"x": -204, "x2": -192, "y": 640, "y2": 640}]},
          "mark": {"type": "rule", "color": "black", "strokeWidth": 1.3},
          "encoding": {
            "x": {"field": "x", "type": "quantitative", "scale": {"domain": [-400, 400], "nice": false, "zero": false}, "axis": null},
            "x2": {"field": "x2"},
            "y": {"field": "y", "type": "quantitative", "scale": {"domain": [-1896, 1176], "nice": false, "zero": false}, "axis": null},
            "y2": {"field": "y2"}
          }
        },
        {
          "data": {"values": [{"x": -213, "y": 630, "label": "200"}]},
          "mark": {"type": "text", "font": "Liberation Serif", "fontSize": 16, "align": "right", "baseline": "middle", "color": "black"},
          "encoding": {
            "x": {"field": "x", "type": "quantitative", "scale": {"domain": [-400, 400], "nice": false, "zero": false}, "axis": null},
            "y": {"field": "y", "type": "quantitative", "scale": {"domain": [-1896, 1176], "nice": false, "zero": false}, "axis": null},
            "text": {"field": "label"}
          }
        },
        {
          "data": {"values": [{"x": 38, "x2": 154, "y": 620}, {"x": 166, "x2": 390, "y": 620}]},
          "mark": {"type": "rule", "color": "#3d72c8", "strokeWidth": 3},
          "encoding": {
            "x": {"field": "x", "type": "quantitative", "scale": {"domain": [-400, 400], "nice": false, "zero": false}, "axis": null},
            "x2": {"field": "x2"},
            "y": {"field": "y", "type": "quantitative", "scale": {"domain": [-1896, 1176], "nice": false, "zero": false}, "axis": null}
          }
        },
        {
          "data": {"values": [{"x": 36, "y": 620, "d": "l"}, {"x": 156, "y": 620, "d": "r"}, {"x": 164, "y": 620, "d": "l"}, {"x": 392, "y": 620, "d": "r"}]},
          "mark": {"type": "point", "filled": true, "color": "#3d72c8", "opacity": 1, "size": 50},
          "encoding": {
            "x": {"field": "x", "type": "quantitative", "scale": {"domain": [-400, 400], "nice": false, "zero": false}, "axis": null},
            "y": {"field": "y", "type": "quantitative", "scale": {"domain": [-1896, 1176], "nice": false, "zero": false}, "axis": null},
            "shape": {"field": "d", "type": "nominal", "scale": {"domain": ["l", "r"], "range": ["triangle-left", "triangle-right"]}, "legend": null}
          }
        },
        {
          "data": {"values": [{"x": 90, "y": 490, "label": "1st"}, {"x": 270, "y": 490, "label": "2nd"}]},
          "mark": {"type": "text", "font": "Liberation Sans", "fontSize": 14, "align": "center", "baseline": "middle", "color": "#222222"},
          "encoding": {
            "x": {"field": "x", "type": "quantitative", "scale": {"domain": [-400, 400], "nice": false, "zero": false}, "axis": null},
            "y": {"field": "y", "type": "quantitative", "scale": {"domain": [-1896, 1176], "nice": false, "zero": false}, "axis": null},
            "text": {"field": "label"}
          }
        },
        {
          "data": {"name": "psfL"},
          "mark": {"type": "square", "filled": true, "color": "black", "opacity": 1, "size": 7},
          "encoding": {
            "x": {"field": "t", "type": "quantitative", "scale": {"domain": [-400, 400], "nice": false, "zero": false}, "axis": null},
            "y": {"field": "f", "type": "quantitative", "scale": {"domain": [0, 21.19], "nice": false, "zero": false},
              "axis": {"orient": "left", "values": [0, 12], "title": "PSF (Hz)", "titleX": -49, "titleY": 189, "titleAlign": "center", "titleBaseline": "middle", "titleAngle": 270, "tickSize": 6, "labelPadding": 2}}
          }
        },
        {
          "data": {"values": [{"f": 6.54}]},
          "mark": {"type": "rule", "color": "#3b6fc9", "strokeWidth": 2.5},
          "encoding": {
            "y": {"field": "f", "type": "quantitative", "scale": {"domain": [0, 21.19], "nice": false, "zero": false}, "axis": null}
          }
        },
        {
          "data": {"values": [{"t": 0}]},
          "mark": {"type": "rule", "color": "black", "strokeWidth": 2.3, "strokeDash": [9, 5]},
          "encoding": {
            "x": {"field": "t", "type": "quantitative", "scale": {"domain": [-400, 400], "nice": false, "zero": false}, "axis": null}
          }
        }
      ]
    },
    {
      "width": 307, "height": 256,
      "resolve": {"scale": {"y": "independent"}},
      "layer": [
        {
          "data": {"values": [{"u": 72}, {"u": 0}, {"u": -72}]},
          "mark": {"type": "rule", "color": "#2e62d0", "strokeDash": [5, 3], "strokeWidth": 1.2},
          "encoding": {
            "y": {"field": "u", "type": "quantitative", "scale": {"domain": [-1896, 1176], "nice": false, "zero": false}, "axis": null}
          }
        },
        {
          "data": {"name": "cuPsfR"},
          "mark": {"type": "line", "color": "#a23a3a", "strokeWidth": 1},
          "encoding": {
            "x": {"field": "t", "type": "quantitative", "scale": {"domain": [-50, 150], "nice": false, "zero": false}, "axis": null},
            "y": {"field": "u", "type": "quantitative", "scale": {"domain": [-1896, 1176], "nice": false, "zero": false}, "axis": null}
          }
        },
        {
          "data": {"values": [{"x": 111, "x2": 111, "y": 430, "y2": 630}, {"x": 111, "x2": 114.3, "y": 430, "y2": 430}, {"x": 111, "x2": 114.3, "y": 630, "y2": 630}]},
          "mark": {"type": "rule", "color": "black", "strokeWidth": 1.3},
          "encoding": {
            "x": {"field": "x", "type": "quantitative", "scale": {"domain": [-50, 150], "nice": false, "zero": false}, "axis": null},
            "x2": {"field": "x2"},
            "y": {"field": "y", "type": "quantitative", "scale": {"domain": [-1896, 1176], "nice": false, "zero": false}, "axis": null},
            "y2": {"field": "y2"}
          }
        },
        {
          "data": {"values": [{"x": 109, "y": 625, "label": "200"}]},
          "mark": {"type": "text", "font": "Liberation Serif", "fontSize": 16, "align": "right", "baseline": "middle", "color": "black"},
          "encoding": {
            "x": {"field": "x", "type": "quantitative", "scale": {"domain": [-50, 150], "nice": false, "zero": false}, "axis": null},
            "y": {"field": "y", "type": "quantitative", "scale": {"domain": [-1896, 1176], "nice": false, "zero": false}, "axis": null},
            "text": {"field": "label"}
          }
        },
        {
          "data": {"name": "psfR"},
          "mark": {"type": "square", "filled": true, "color": "black", "opacity": 1, "size": 7},
          "encoding": {
            "x": {"field": "t", "type": "quantitative", "scale": {"domain": [-50, 150], "nice": false, "zero": false}, "axis": null},
            "y": {"field": "f", "type": "quantitative", "scale": {"domain": [0, 21.19], "nice": false, "zero": false},
              "axis": {"orient": "left", "values": [0, 12], "title": null, "tickSize": 6, "labelPadding": 2}}
          }
        },
        {
          "data": {"values": [{"f": 6.54}]},
          "mark": {"type": "rule", "color": "#3b6fc9", "strokeWidth": 2.5},
          "encoding": {
            "y": {"field": "f", "type": "quantitative", "scale": {"domain": [0, 21.19], "nice": false, "zero": false}, "axis": null}
          }
        },
        {
          "data": {"values": [{"t": 0}]},
          "mark": {"type": "rule", "color": "black", "strokeWidth": 2.3, "strokeDash": [9, 5]},
          "encoding": {
            "x": {"field": "t", "type": "quantitative", "scale": {"domain": [-50, 150], "nice": false, "zero": false}, "axis": null}
          }
        }
      ]
    },
    {
      "width": 307, "height": 275,
      "resolve": {"scale": {"y": "independent"}},
      "layer": [
        {
          "data": {"values": [{"u": 10.2}, {"u": 0}, {"u": -10.2}]},
          "mark": {"type": "rule", "color": "#2e62d0", "strokeDash": [5, 3], "strokeWidth": 1.2},
          "encoding": {
            "y": {"field": "u", "type": "quantitative", "scale": {"domain": [-105.6, 47.2], "nice": false, "zero": false},
              "axis": {"orient": "left", "title": "PSTH-CUSUM", "labels": false, "ticks": false, "domain": false, "titleX": -49, "titleY": 68, "titleAlign": "center", "titleBaseline": "middle", "titleAngle": 270}}
          }
        },
        {
          "data": {"name": "cuPsthL"},
          "mark": {"type": "line", "color": "#7a1010", "strokeWidth": 1.5},
          "encoding": {
            "x": {"field": "t", "type": "quantitative", "scale": {"domain": [-400, 400], "nice": false, "zero": false}, "axis": null},
            "y": {"field": "u", "type": "quantitative", "scale": {"domain": [-105.6, 47.2], "nice": false, "zero": false}, "axis": null}
          }
        },
        {
          "data": {"values": [{"x": -193, "x2": -193, "y": 21.5, "y2": 41.5}, {"x": -193, "x2": -180, "y": 21.5, "y2": 21.5}, {"x": -193, "x2": -180, "y": 41.5, "y2": 41.5}]},
          "mark": {"type": "rule", "color": "black", "strokeWidth": 1.3},
          "encoding": {
            "x": {"field": "x", "type": "quantitative", "scale": {"domain": [-400, 400], "nice": false, "zero": false}, "axis": null},
            "x2": {"field": "x2"},
            "y": {"field": "y", "type": "quantitative", "scale": {"domain": [-105.6, 47.2], "nice": false, "zero": false}, "axis": null},
            "y2": {"field": "y2"}
          }
        },
        {
          "data": {"values": [{"x": -204, "y": 30.4, "label": "20"}]},
          "mark": {"type": "text", "font": "Liberation Serif", "fontSize": 16, "align": "right", "baseline": "middle", "color": "black"},
          "encoding": {
            "x": {"field": "x", "type": "quantitative", "scale": {"domain": [-400, 400], "nice": false, "zero": false}, "axis": null},
            "y": {"field": "y", "type": "quantitative", "scale": {"domain": [-105.6, 47.2], "nice": false, "zero": false}, "axis": null},
            "text": {"field": "label"}
          }
        },
        {
          "data": {"name": "psthL"},
          "mark": {"type": "rule", "color": "#15157c", "strokeWidth": 1.15},
          "encoding": {
            "x": {"field": "t", "type": "quantitative", "scale": {"domain": [-400, 400], "nice": false, "zero": false}, "axis": null},
            "y": {"field": "c", "type": "quantitative", "scale": {"domain": [0, 8.33], "nice": false, "zero": false},
              "axis": {"orient": "left", "values": [0, 2, 5], "title": "PSTH (Counts)", "titleX": -49, "titleY": 201, "titleAlign": "center", "titleBaseline": "middle", "titleAngle": 270, "tickSize": 6, "labelPadding": 2}},
            "y2": {"datum": 0}
          }
        },
        {
          "data": {"values": [{"t": 0}]},
          "mark": {"type": "rule", "color": "black", "strokeWidth": 2.3, "strokeDash": [9, 5]},
          "encoding": {
            "x": {"field": "t", "type": "quantitative", "scale": {"domain": [-400, 400], "nice": false, "zero": false}, "axis": null}
          }
        }
      ]
    },
    {
      "width": 307, "height": 275,
      "resolve": {"scale": {"y": "independent"}},
      "layer": [
        {
          "data": {"values": [{"u": 10.2}, {"u": 0}, {"u": -10.2}]},
          "mark": {"type": "rule", "color": "#2e62d0", "strokeDash": [5, 3], "strokeWidth": 1.2},
          "encoding": {
            "y": {"field": "u", "type": "quantitative", "scale": {"domain": [-105.6, 47.2], "nice": false, "zero": false}, "axis": null}
          }
        },
        {
          "data": {"name": "cuPsthR"},
          "mark": {"type": "line", "color": "#7a1010", "strokeWidth": 1.2},
          "encoding": {
            "x": {"field": "t", "type": "quantitative", "scale": {"domain": [-50, 150], "nice": false, "zero": false}, "axis": null},
            "y": {"field": "u", "type": "quantitative", "scale": {"domain": [-105.6, 47.2], "nice": false, "zero": false}, "axis": null}
          }
        },
        {
          "data": {"values": [{"x": 113.3, "x2": 113.3, "y": 19, "y2": 39}, {"x": 113.3, "x2": 116.6, "y": 19, "y2": 19}, {"x": 113.3, "x2": 116.6, "y": 39, "y2": 39}]},
          "mark": {"type": "rule", "color": "black", "strokeWidth": 1.3},
          "encoding": {
            "x": {"field": "x", "type": "quantitative", "scale": {"domain": [-50, 150], "nice": false, "zero": false}, "axis": null},
            "x2": {"field": "x2"},
            "y": {"field": "y", "type": "quantitative", "scale": {"domain": [-105.6, 47.2], "nice": false, "zero": false}, "axis": null},
            "y2": {"field": "y2"}
          }
        },
        {
          "data": {"values": [{"x": 110.7, "y": 27.6, "label": "20"}]},
          "mark": {"type": "text", "font": "Liberation Serif", "fontSize": 16, "align": "right", "baseline": "middle", "color": "black"},
          "encoding": {
            "x": {"field": "x", "type": "quantitative", "scale": {"domain": [-50, 150], "nice": false, "zero": false}, "axis": null},
            "y": {"field": "y", "type": "quantitative", "scale": {"domain": [-105.6, 47.2], "nice": false, "zero": false}, "axis": null},
            "text": {"field": "label"}
          }
        },
        {
          "data": {"name": "psthR"},
          "mark": {"type": "rule", "color": "#1c1c84", "strokeWidth": 1.1},
          "encoding": {
            "x": {"field": "t", "type": "quantitative", "scale": {"domain": [-50, 150], "nice": false, "zero": false}, "axis": null},
            "y": {"field": "c", "type": "quantitative", "scale": {"domain": [0, 8.33], "nice": false, "zero": false},
              "axis": {"orient": "left", "values": [0, 2, 5], "title": null, "tickSize": 6, "labelPadding": 2}},
            "y2": {"datum": 0}
          }
        },
        {
          "data": {"values": [{"t": 0}]},
          "mark": {"type": "rule", "color": "black", "strokeWidth": 2.3, "strokeDash": [9, 5]},
          "encoding": {
            "x": {"field": "t", "type": "quantitative", "scale": {"domain": [-50, 150], "nice": false, "zero": false}, "axis": null}
          }
        }
      ]
    },
    {
      "width": 307, "height": 241,
      "resolve": {"scale": {"y": "independent"}},
      "layer": [
        {
          "data": {"values": [{"u": 0.0134}, {"u": 0}, {"u": -0.0134}]},
          "mark": {"type": "rule", "color": "#2e62d0", "strokeDash": [5, 3], "strokeWidth": 1.2},
          "encoding": {
            "y": {"field": "u", "type": "quantitative", "scale": {"domain": [-0.1408, 0.052], "nice": false, "zero": false},
              "axis": {"orient": "left", "title": "sEMG-CUSUM", "labels": false, "ticks": false, "domain": false, "titleX": -49, "titleY": 58, "titleAlign": "center", "titleBaseline": "middle", "titleAngle": 270}}
          }
        },
        {
          "data": {"name": "cuEmgL"},
          "mark": {"type": "line", "color": "#8b1010", "strokeWidth": 2},
          "encoding": {
            "x": {"field": "t", "type": "quantitative", "scale": {"domain": [-400, 400], "nice": false, "zero": false},
              "axis": {"values": [-400, -200, 0, 200, 400], "labelExpr": "(datum.value > 0 ? '+' : '') + datum.value", "title": "Time (ms)", "tickSize": 5, "labelPadding": 2, "titlePadding": 2}},
            "y": {"field": "u", "type": "quantitative", "scale": {"domain": [-0.1408, 0.052], "nice": false, "zero": false}, "axis": null}
          }
        },
        {
          "data": {"values": [{"x": -173, "x2": -173, "y": 0.0238, "y2": 0.0438}, {"x": -173, "x2": -160, "y": 0.0238, "y2": 0.0238}, {"x": -173, "x2": -160, "y": 0.0438, "y2": 0.0438}]},
          "mark": {"type": "rule", "color": "black", "strokeWidth": 1.3},
          "encoding": {
            "x": {"field": "x", "type": "quantitative", "scale": {"domain": [-400, 400], "nice": false, "zero": false},
              "axis": {"values": [-400, -200, 0, 200, 400], "labelExpr": "(datum.value > 0 ? '+' : '') + datum.value", "title": "Time (ms)", "tickSize": 5, "labelPadding": 2, "titlePadding": 2}},
            "x2": {"field": "x2"},
            "y": {"field": "y", "type": "quantitative", "scale": {"domain": [-0.1408, 0.052], "nice": false, "zero": false}, "axis": null},
            "y2": {"field": "y2"}
          }
        },
        {
          "data": {"values": [{"x": -185, "y": 0.0344, "label": "0.02"}]},
          "mark": {"type": "text", "font": "Liberation Serif", "fontSize": 16, "align": "right", "baseline": "middle", "color": "black"},
          "encoding": {
            "x": {"field": "x", "type": "quantitative", "scale": {"domain": [-400, 400], "nice": false, "zero": false},
              "axis": {"values": [-400, -200, 0, 200, 400], "labelExpr": "(datum.value > 0 ? '+' : '') + datum.value", "title": "Time (ms)", "tickSize": 5, "labelPadding": 2, "titlePadding": 2}},
            "y": {"field": "y", "type": "quantitative", "scale": {"domain": [-0.1408, 0.052], "nice": false, "zero": false}, "axis": null},
            "text": {"field": "label"}
          }
        },
        {
          "data": {"name": "emgL"},
          "mark": {"type": "line", "color": "#111111", "strokeWidth": 1.2},
          "encoding": {
            "x": {"field": "t", "type": "quantitative", "scale": {"domain": [-400, 400], "nice": false, "zero": false},
              "axis": {"values": [-400, -200, 0, 200, 400], "labelExpr": "(datum.value > 0 ? '+' : '') + datum.value", "title": "Time (ms)", "tickSize": 5, "labelPadding": 2, "titlePadding": 2}},
            "y": {"field": "v", "type": "quantitative", "scale": {"domain": [0, 5.26], "nice": false, "zero": false},
              "axis": {"orient": "left", "values": [0, 3], "title": "sEMG (µV)", "titleX": -49, "titleY": 190, "titleAlign": "center", "titleBaseline": "middle", "titleAngle": 270, "tickSize": 6, "labelPadding": 2}}
          }
        },
        {
          "data": {"values": [{"t": 0}]},
          "mark": {"type": "rule", "color": "black", "strokeWidth": 2.3, "strokeDash": [9, 5]},
          "encoding": {
            "x": {"field": "t", "type": "quantitative", "scale": {"domain": [-400, 400], "nice": false, "zero": false},
              "axis": {"values": [-400, -200, 0, 200, 400], "labelExpr": "(datum.value > 0 ? '+' : '') + datum.value", "title": "Time (ms)", "tickSize": 5, "labelPadding": 2, "titlePadding": 2}}
          }
        }
      ]
    },
    {
      "width": 307, "height": 241,
      "resolve": {"scale": {"y": "independent"}},
      "layer": [
        {
          "data": {"values": [{"u": 0.0134}, {"u": 0}, {"u": -0.0134}]},
          "mark": {"type": "rule", "color": "#2e62d0", "strokeDash": [5, 3], "strokeWidth": 1.2},
          "encoding": {
            "y": {"field": "u", "type": "quantitative", "scale": {"domain": [-0.1408, 0.052], "nice": false, "zero": false}, "axis": null}
          }
        },
        {
          "data": {"name": "cuEmgR"},
          "mark": {"type": "line", "color": "#8b1010", "strokeWidth": 2},
          "encoding": {
            "x": {"field": "t", "type": "quantitative", "scale": {"domain": [-50, 150], "nice": false, "zero": false},
              "axis": {"values": [-50, 0, 50, 100, 150], "labelExpr": "(datum.value >= 100 ? '+' : '') + datum.value", "title": "Time (ms)", "tickSize": 5, "labelPadding": 2, "titlePadding": 2}},
            "y": {"field": "u", "type": "quantitative", "scale": {"domain": [-0.1408, 0.052], "nice": false, "zero": false}, "axis": null}
          }
        },
        {
          "data": {"values": [{"x": 117.2, "x2": 117.2, "y": 0.0208, "y2": 0.0408}, {"x": 117.2, "x2": 120.5, "y": 0.0208, "y2": 0.0208}, {"x": 117.2, "x2": 120.5, "y": 0.0408, "y2": 0.0408}]},
          "mark": {"type": "rule", "color": "black", "strokeWidth": 1.3},
          "encoding": {
            "x": {"field": "x", "type": "quantitative", "scale": {"domain": [-50, 150], "nice": false, "zero": false},
              "axis": {"values": [-50, 0, 50, 100, 150], "labelExpr": "(datum.value >= 100 ? '+' : '') + datum.value", "title": "Time (ms)", "tickSize": 5, "labelPadding": 2, "titlePadding": 2}},
            "x2": {"field": "x2"},
            "y": {"field": "y", "type": "quantitative", "scale": {"domain": [-0.1408, 0.052], "nice": false, "zero": false}, "axis": null},
            "y2": {"field": "y2"}
          }
        },
        {
          "data": {"values": [{"x": 114, "y": 0.0318, "label": "0.02"}]},
          "mark": {"type": "text", "font": "Liberation Serif", "fontSize": 16, "align": "right", "baseline": "middle", "color": "black"},
          "encoding": {
            "x": {"field": "x", "type": "quantitative", "scale": {"domain": [-50, 150], "nice": false, "zero": false},
              "axis": {"values": [-50, 0, 50, 100, 150], "labelExpr": "(datum.value >= 100 ? '+' : '') + datum.value", "title": "Time (ms)", "tickSize": 5, "labelPadding": 2, "titlePadding": 2}},
            "y": {"field": "y", "type": "quantitative", "scale": {"domain": [-0.1408, 0.052], "nice": false, "zero": false}, "axis": null},
            "text": {"field": "label"}
          }
        },
        {
          "data": {"name": "emgR"},
          "mark": {"type": "line", "color": "#111111", "strokeWidth": 1.2},
          "encoding": {
            "x": {"field": "t", "type": "quantitative", "scale": {"domain": [-50, 150], "nice": false, "zero": false},
              "axis": {"values": [-50, 0, 50, 100, 150], "labelExpr": "(datum.value >= 100 ? '+' : '') + datum.value", "title": "Time (ms)", "tickSize": 5, "labelPadding": 2, "titlePadding": 2}},
            "y": {"field": "v", "type": "quantitative", "scale": {"domain": [0, 5.26], "nice": false, "zero": false},
              "axis": {"orient": "left", "values": [0, 3], "title": null, "tickSize": 6, "labelPadding": 2}}
          }
        },
        {
          "data": {"values": [{"t": 0}]},
          "mark": {"type": "rule", "color": "black", "strokeWidth": 2.3, "strokeDash": [9, 5]},
          "encoding": {
            "x": {"field": "t", "type": "quantitative", "scale": {"domain": [-50, 150], "nice": false, "zero": false},
              "axis": {"values": [-50, 0, 50, 100, 150], "labelExpr": "(datum.value >= 100 ? '+' : '') + datum.value", "title": "Time (ms)", "tickSize": 5, "labelPadding": 2, "titlePadding": 2}}
          }
        }
      ]
    }
  ]
}
